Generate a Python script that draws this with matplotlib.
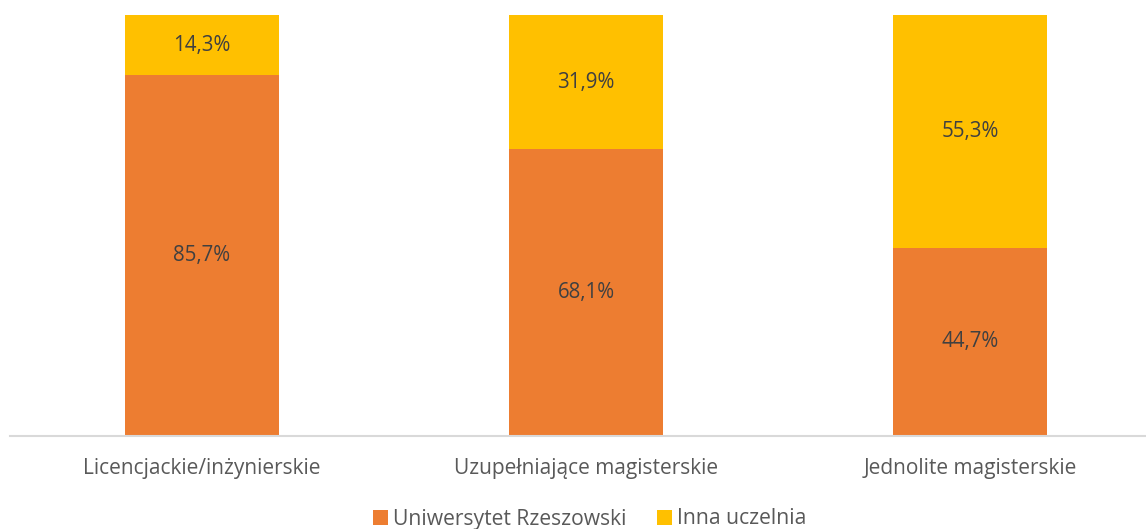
import matplotlib
matplotlib.use('Agg')
import matplotlib.pyplot as plt
import numpy as np

plt.rcParams['font.family'] = ['Open Sans', 'DejaVu Sans']

# Data
categories = ['Licencjackie/inżynierskie', 'Uzupełniające magisterskie', 'Jednolite magisterskie']
ur_values = [85.7, 68.1, 44.7]
other_values = [14.3, 31.9, 55.3]
series_names = ['Uniwersytet Rzeszowski', 'Inna uczelnia']

orange = '#ED7D31'
yellow = '#FFC000'

W, H = 1146, 529
fig = plt.figure(figsize=(W / 100, H / 100), dpi=100)
ax = fig.add_axes([10 / W, (H - 436) / H, 1152 / W, 421 / H])

x = np.arange(len(categories))
b1 = ax.bar(x, ur_values, width=0.4, color=orange, label=series_names[0])
b2 = ax.bar(x, other_values, width=0.4, bottom=ur_values, color=yellow, label=series_names[1])

# Data labels in the middle of each segment
for i in range(len(categories)):
    ax.text(x[i], ur_values[i] / 2, f'{ur_values[i]:.1f}%'.replace('.', ','),
            ha='center', va='center', fontsize=14.8, color='#404040')
    ax.text(x[i], ur_values[i] + other_values[i] / 2, f'{other_values[i]:.1f}%'.replace('.', ','),
            ha='center', va='center', fontsize=14.8, color='#404040')

ax.set_xlim(-0.5, 2.5)
ax.set_ylim(0, 100)
ax.set_yticks([])
ax.set_xticks(x)
ax.set_xticklabels(categories, fontsize=15, color='#595959')
ax.tick_params(axis='x', length=0, pad=16)
for s in ['top', 'left', 'right']:
    ax.spines[s].set_visible(False)
ax.spines['bottom'].set_color('#D9D9D9')
ax.spines['bottom'].set_linewidth(1.5)

fig.legend(handles=[b1, b2], loc='center', bbox_to_anchor=(590 / W, 1 - 519 / H),
           ncol=2, frameon=False, fontsize=15.2, labelcolor='#595959',
           handlelength=0.7, handleheight=0.7, handletextpad=0.25, columnspacing=1.45)

plt.savefig('out.png', dpi=100)
